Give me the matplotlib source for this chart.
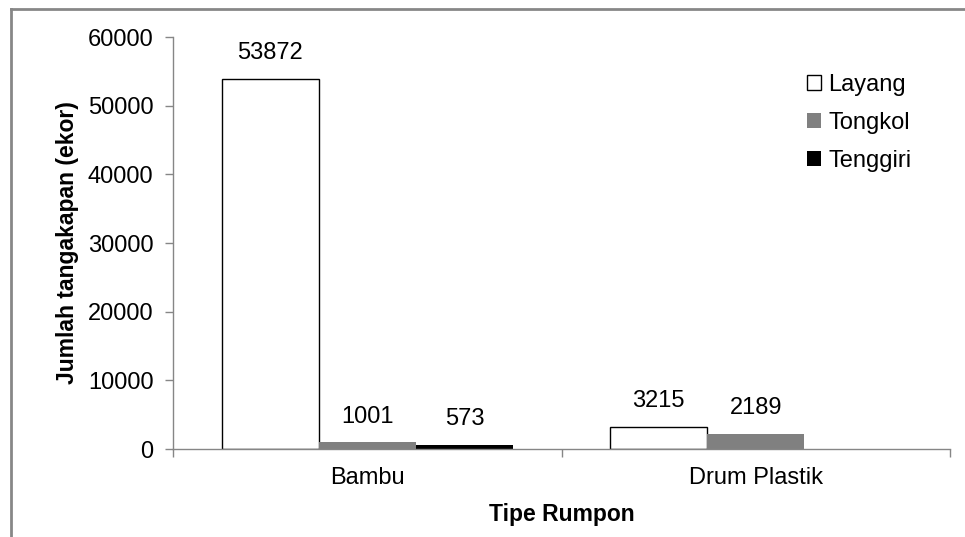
import matplotlib
matplotlib.use("Agg")
import matplotlib.pyplot as plt
import numpy as np
from matplotlib.lines import Line2D

categories = ["Bambu", "Drum Plastik"]
series_names = ["Layang", "Tongkol", "Tenggiri"]
layang = [53872, 3215]
tongkol = [1001, 2189]
tenggiri = [573, 0]
yticks = [0, 10000, 20000, 30000, 40000, 50000, 60000]

plt.rcParams['font.family'] = ['Liberation Sans', 'DejaVu Sans']

fig = plt.figure(figsize=(9.65, 5.37), dpi=100)
ax = fig.add_axes([173/965, 1-449/537, (950-173)/965, (449-37)/537])

gray_axis = '#868686'
fs = 17
x = np.arange(len(categories))
w = 0.25
styles = [dict(facecolor='white', edgecolor='black', linewidth=1.0),
          dict(facecolor='#808080', edgecolor='#808080', linewidth=0.0),
          dict(facecolor='black', edgecolor='black', linewidth=0.0)]
data = [layang, tongkol, tenggiri]
for i, (name, vals, st) in enumerate(zip(series_names, data, styles)):
    bars = ax.bar(x + (i - 1) * w, vals, w, label=name, **st)
    for b, v in zip(bars, vals):
        if v > 0:
            ax.annotate(f"{v}", (b.get_x() + b.get_width()/2, v),
                        xytext=(0, 10.5), textcoords='offset points',
                        ha='center', va='bottom', fontsize=fs, color='black')

ax.set_xlim(-0.5, 1.5)
ax.set_ylim(0, 60000)
ax.set_yticks(yticks)
ax.set_yticklabels([str(t) for t in yticks], fontsize=fs)
ax.set_xticks(x)
ax.set_xticklabels(categories, fontsize=fs)
ax.set_xticks([-0.5, 0.5, 1.5], minor=True)
ax.tick_params(axis='x', which='major', length=0, pad=13)
ax.tick_params(axis='x', which='minor', length=6, color=gray_axis, width=1)
ax.tick_params(axis='y', length=6, color=gray_axis, width=1, pad=8)

for s in ['top', 'right']:
    ax.spines[s].set_visible(False)
for s in ['left', 'bottom']:
    ax.spines[s].set_color(gray_axis)
    ax.spines[s].set_linewidth(1)

ax.set_ylabel("Jumlah tangakapan (ekor)", fontsize=16.5, fontweight='bold', labelpad=6)
ax.set_xlabel("Tipe Rumpon", fontsize=16.5, fontweight='bold', labelpad=10)

leg = ax.legend(loc='upper right', bbox_to_anchor=(0.978, 0.962), frameon=False,
                fontsize=fs, handlelength=0.6, handleheight=0.6,
                handletextpad=0.3, labelspacing=0.68)

# figure border (left and top)
fig.add_artist(Line2D([11/965, 11/965], [0, 1-9/537], transform=fig.transFigure,
                      color='#878787', linewidth=2))
fig.add_artist(Line2D([11/965, 1], [1-9/537, 1-9/537], transform=fig.transFigure,
                      color='#878787', linewidth=2))

fig.savefig("out.png", dpi=100)
